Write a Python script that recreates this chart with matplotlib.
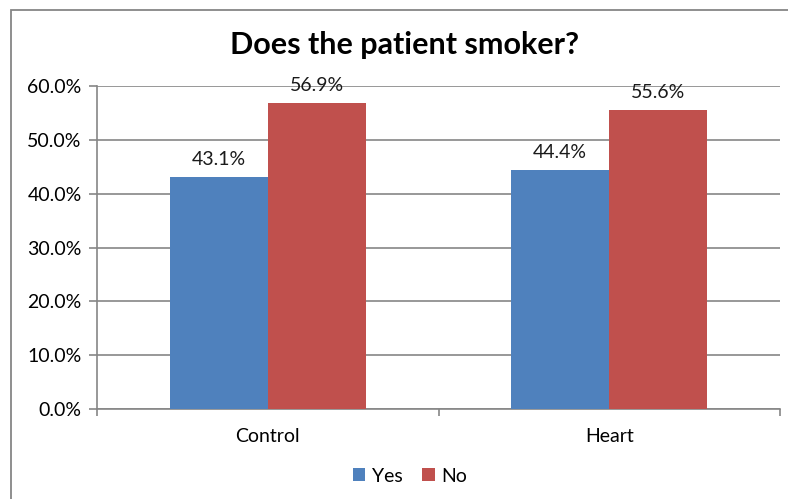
import matplotlib.pyplot as plt
from matplotlib.patches import Rectangle
import numpy as np

categories = ["Control", "Heart"]
series_names = ["Yes", "No"]
yes_values = [43.1, 44.4]
no_values = [56.9, 55.6]
y_ticks = [0, 10, 20, 30, 40, 50, 60]

colors = ["#4F81BD", "#C0504D"]
grid_color = "#868686"

plt.rcParams['font.family'] = ['Lato', 'DejaVu Sans']

W, H = 788, 499
fig = plt.figure(figsize=(W / 100, H / 100), dpi=100)

# chart-area frame
fig.patches.append(Rectangle((11 / W, -0.1), 1.2, 1.1 - 10 / H,
                             transform=fig.transFigure, fill=False,
                             edgecolor=grid_color, linewidth=1.3))

ax = fig.add_axes([97 / W, 1 - 409 / H, (780 - 97) / W, (409 - 86) / H])

fs = 14
x = np.arange(len(categories))
bw = 0.287
for i, (vals, name) in enumerate(zip([yes_values, no_values], series_names)):
    pos = x + (i - 0.5) * bw
    ax.bar(pos, vals, width=bw, color=colors[i], label=name, zorder=3)
    for p, v in zip(pos, vals):
        ax.text(p, v + 1.6, f"{v:.1f}%", ha="center", va="bottom",
                fontsize=fs, color="#1a1a1a", zorder=4)

ax.set_xlim(-0.5, len(categories) - 0.5)
ax.set_ylim(0, 60)
ax.set_yticks(y_ticks)
ax.set_yticklabels([f"{t:.1f}%" for t in y_ticks], fontsize=fs)
ax.yaxis.grid(True, color=grid_color, linewidth=1.2, zorder=0)
ax.set_axisbelow(True)

ax.set_xticks(x)
ax.set_xticklabels(categories, fontsize=fs)
ax.tick_params(axis="x", length=0, pad=14)
ax.set_xticks(np.arange(-0.5, len(categories)), minor=True)
ax.tick_params(axis="x", which="minor", length=5, color=grid_color, width=1.2)
ax.tick_params(axis="y", length=6, color=grid_color, width=1.2, pad=5)

for s in ["top", "right"]:
    ax.spines[s].set_visible(False)
for s in ["left", "bottom"]:
    ax.spines[s].set_color(grid_color)
    ax.spines[s].set_linewidth(1.2)

fig.text(405 / W, 1 - 45 / H, "Does the patient smoker?", ha="center",
         va="center", fontsize=22, fontweight="bold")

fig.legend(loc="center", bbox_to_anchor=(410 / W, 1 - 476 / H), ncol=2,
           frameon=False, fontsize=fs, handlelength=0.65, handleheight=0.65,
           handletextpad=0.35, columnspacing=1.0)

fig.savefig("out.png", dpi=100)
